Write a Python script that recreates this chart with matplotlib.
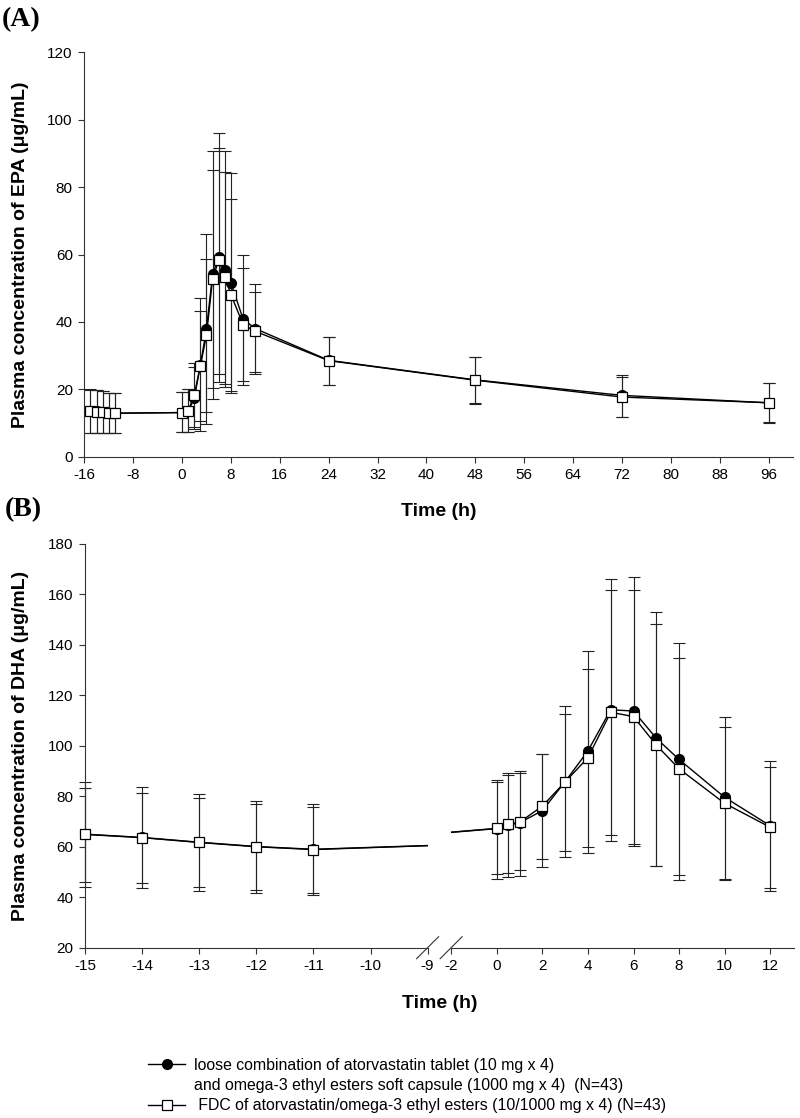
import numpy as np
import matplotlib.pyplot as plt
from matplotlib.lines import Line2D

plt.rcParams['font.family'] = ['Liberation Sans', 'DejaVu Sans']
plt.rcParams['axes.unicode_minus'] = False

# (A) EPA
t_epa = [-15, -14, -13, -12, -11, 0, 1, 2, 3, 4, 5, 6, 7, 8, 10, 12, 24, 48, 72, 96]
epa_loose = [13.6, 13.5, 13.3, 13.1, 12.9, 13.1, 13.5, 17.3, 27.2, 37.9, 54.2, 59.3, 55.4, 51.6, 40.8, 38.0, 28.6, 22.8, 18.2, 16.0]
epa_loose_hi = [20.0, 19.8, 19.5, 19.0, 18.8, 19.3, 20.2, 26.6, 43.1, 66.0, 90.6, 96.0, 90.7, 84.2, 59.9, 51.3, 35.6, 29.6, 24.2, 22.0]
epa_loose_lo = [7.1, 7.1, 7.0, 7.0, 7.0, 7.2, 7.2, 8.1, 10.7, 9.7, 17.0, 22.2, 20.8, 18.8, 21.2, 24.4, 21.4, 15.8, 11.9, 10.0]
epa_fdc = [13.5, 13.4, 13.2, 13.0, 12.9, 13.1, 13.6, 18.3, 27.0, 36.1, 52.8, 58.3, 53.4, 48.1, 39.2, 37.2, 28.5, 22.7, 17.7, 16.0]
epa_fdc_hi = [19.9, 19.7, 19.4, 18.9, 18.8, 19.2, 20.0, 27.8, 47.0, 58.7, 85.2, 91.6, 84.5, 76.4, 56.0, 48.9, 35.5, 29.6, 23.6, 21.8]
epa_fdc_lo = [7.0, 7.0, 7.0, 7.0, 7.0, 7.2, 7.2, 8.9, 7.7, 13.2, 20.3, 24.5, 21.7, 19.5, 22.5, 25.0, 21.2, 15.7, 11.7, 10.2]

# (B) DHA
t_dha = [-15, -14, -13, -12, -11, 0, 0.5, 1, 2, 3, 4, 5, 6, 7, 8, 10, 12]
dha_loose = [65.0, 63.7, 61.8, 60.1, 59.0, 67.2, 68.6, 69.5, 74.3, 85.8, 98.0, 114.3, 113.8, 103.0, 94.6, 79.6, 68.3]
dha_loose_hi = [85.8, 83.5, 81.1, 78.1, 76.8, 86.4, 89.1, 90.1, 96.6, 115.8, 137.6, 166.2, 166.8, 153.2, 140.6, 111.6, 94.0]
dha_loose_lo = [44.1, 43.7, 42.6, 41.8, 40.8, 47.2, 48.1, 48.4, 52.1, 55.8, 57.6, 62.4, 60.5, 52.5, 48.8, 47.3, 42.4]
dha_fdc = [64.9, 63.6, 61.7, 60.0, 58.9, 67.3, 69.0, 69.7, 76.1, 85.7, 95.3, 113.3, 111.6, 100.3, 90.9, 77.2, 67.7]
dha_fdc_hi = [83.4, 81.4, 79.3, 77.1, 75.9, 85.8, 88.4, 89.1, 96.6, 112.6, 130.5, 161.9, 161.8, 148.3, 134.9, 107.6, 91.7]
dha_fdc_lo = [46.1, 45.5, 44.1, 42.8, 41.8, 49.1, 49.8, 50.8, 55.1, 58.4, 60.0, 64.6, 61.1, 52.3, 46.8, 46.8, 43.5]

loose_label = 'loose combination of atorvastatin tablet (10 mg x 4)'
loose_label2 = 'and omega-3 ethyl esters soft capsule (1000 mg x 4)  (N=43)'
fdc_label = ' FDC of atorvastatin/omega-3 ethyl esters (10/1000 mg x 4) (N=43)'

AX_COL = '#333333'
loose_style = dict(color='black', marker='o', ms=7, mfc='black', mec='black', lw=1.0)
fdc_style = dict(color='black', marker='s', ms=7, mfc='white', mec='black', mew=0.9, lw=1.0)


def errbars(ax, t, m, hi, lo):
    m = np.asarray(m)
    err = [m - np.asarray(lo), np.asarray(hi) - m]
    ax.errorbar(t, m, yerr=err, fmt='none', ecolor='#222222', elinewidth=0.8,
                capsize=4.5, capthick=0.8, zorder=2)


def draw(ax):
    for s in ['top', 'right']:
        ax.spines[s].set_visible(False)
    for s in ['left', 'bottom']:
        ax.spines[s].set_color(AX_COL)
        ax.spines[s].set_linewidth(0.8)
    ax.tick_params(direction='out', length=4.3, width=0.8, color=AX_COL,
                   labelsize=11, pad=4)


fig = plt.figure(figsize=(8.0, 11.18), dpi=100)

# ---- panel A
ax_a = fig.add_axes([0.10538, 0.5915, 0.88588, 0.36172])
errbars(ax_a, t_epa, epa_loose, epa_loose_hi, epa_loose_lo)
errbars(ax_a, t_epa, epa_fdc, epa_fdc_hi, epa_fdc_lo)
ax_a.plot(t_epa, epa_loose, zorder=3, **loose_style)
ax_a.plot(t_epa, epa_fdc, zorder=4, **fdc_style)
ax_a.set_xlim(-16, 100)
ax_a.set_ylim(0, 120)
ax_a.set_xticks(np.arange(-16, 97, 8))
ax_a.set_yticks(np.arange(0, 121, 20))
draw(ax_a)

# ---- panel B (broken x axis)
ax_bl = fig.add_axes([0.08838, 0.15233, 0.44613, 0.36109])
ax_br = fig.add_axes([0.56389, 0.15233, 0.42862, 0.36109])
for ax in (ax_bl, ax_br):
    errbars(ax, t_dha, dha_loose, dha_loose_hi, dha_loose_lo)
    errbars(ax, t_dha, dha_fdc, dha_fdc_hi, dha_fdc_lo)
    ax.plot(t_dha, dha_loose, zorder=3, **loose_style)
    ax.plot(t_dha, dha_fdc, zorder=4, **fdc_style)
    ax.set_ylim(20, 180)
    ax.set_yticks(np.arange(20, 181, 20))
    draw(ax)

ax_bl.set_xlim(-15.25, -9)
ax_bl.set_xticks(np.arange(-15, -8, 1))
ax_bl.spines['left'].set_position(('data', -15))
ax_bl.spines['bottom'].set_bounds(-15, -9)

ax_br.set_xlim(-2, 13.04)
ax_br.set_xticks(np.arange(-2, 13, 2))
ax_br.spines['left'].set_visible(False)
ax_br.tick_params(axis='y', left=False, labelleft=False)

# break marks
dy = 11 / 403.7
dx = 11 / 356.9
ax_bl.plot([1 - dx, 1 + dx], [-dy, dy], transform=ax_bl.transAxes,
           clip_on=False, color=AX_COL, lw=0.8)
dx = 11 / 342.9
ax_br.plot([-dx, dx], [-dy, dy], transform=ax_br.transAxes,
           clip_on=False, color=AX_COL, lw=0.8)

# labels
fig.text(21 / 800, 1 - 254.5 / 1118, 'Plasma concentration of EPA (μg/mL)',
         rotation=90, ha='center', va='center', fontsize=14, fontweight='bold')
fig.text(21 / 800, 1 - 745.9 / 1118, 'Plasma concentration of DHA (μg/mL)',
         rotation=90, ha='center', va='center', fontsize=14, fontweight='bold')
fig.text(438.6 / 800, 1 - 512 / 1118, 'Time (h)', ha='center', va='center',
         fontsize=14, fontweight='bold')
fig.text(439.5 / 800, 1 - 1003 / 1118, 'Time (h)', ha='center', va='center',
         fontsize=14, fontweight='bold')
fig.text(2 / 800, 1 - 20 / 1118, '(A)', ha='left', va='center', fontsize=20,
         fontweight='bold', family=['Liberation Serif', 'DejaVu Serif'])
fig.text(5 / 800, 1 - 510 / 1118, '(B)', ha='left', va='center', fontsize=20,
         fontweight='bold', family=['Liberation Serif', 'DejaVu Serif'])

# legend
handles = [Line2D([], [], **loose_style),
           Line2D([], [], linestyle='none'),
           Line2D([], [], **fdc_style)]
fig.legend(handles, [loose_label, loose_label2, fdc_label], loc='upper left',
           bbox_to_anchor=(148 / 800, 1 - 1058 / 1118), frameon=False,
           fontsize=11.4, handlelength=2.35, handletextpad=0.55,
           labelspacing=0.33, borderpad=0, borderaxespad=0, numpoints=1)

fig.savefig('out.png', dpi=100)
